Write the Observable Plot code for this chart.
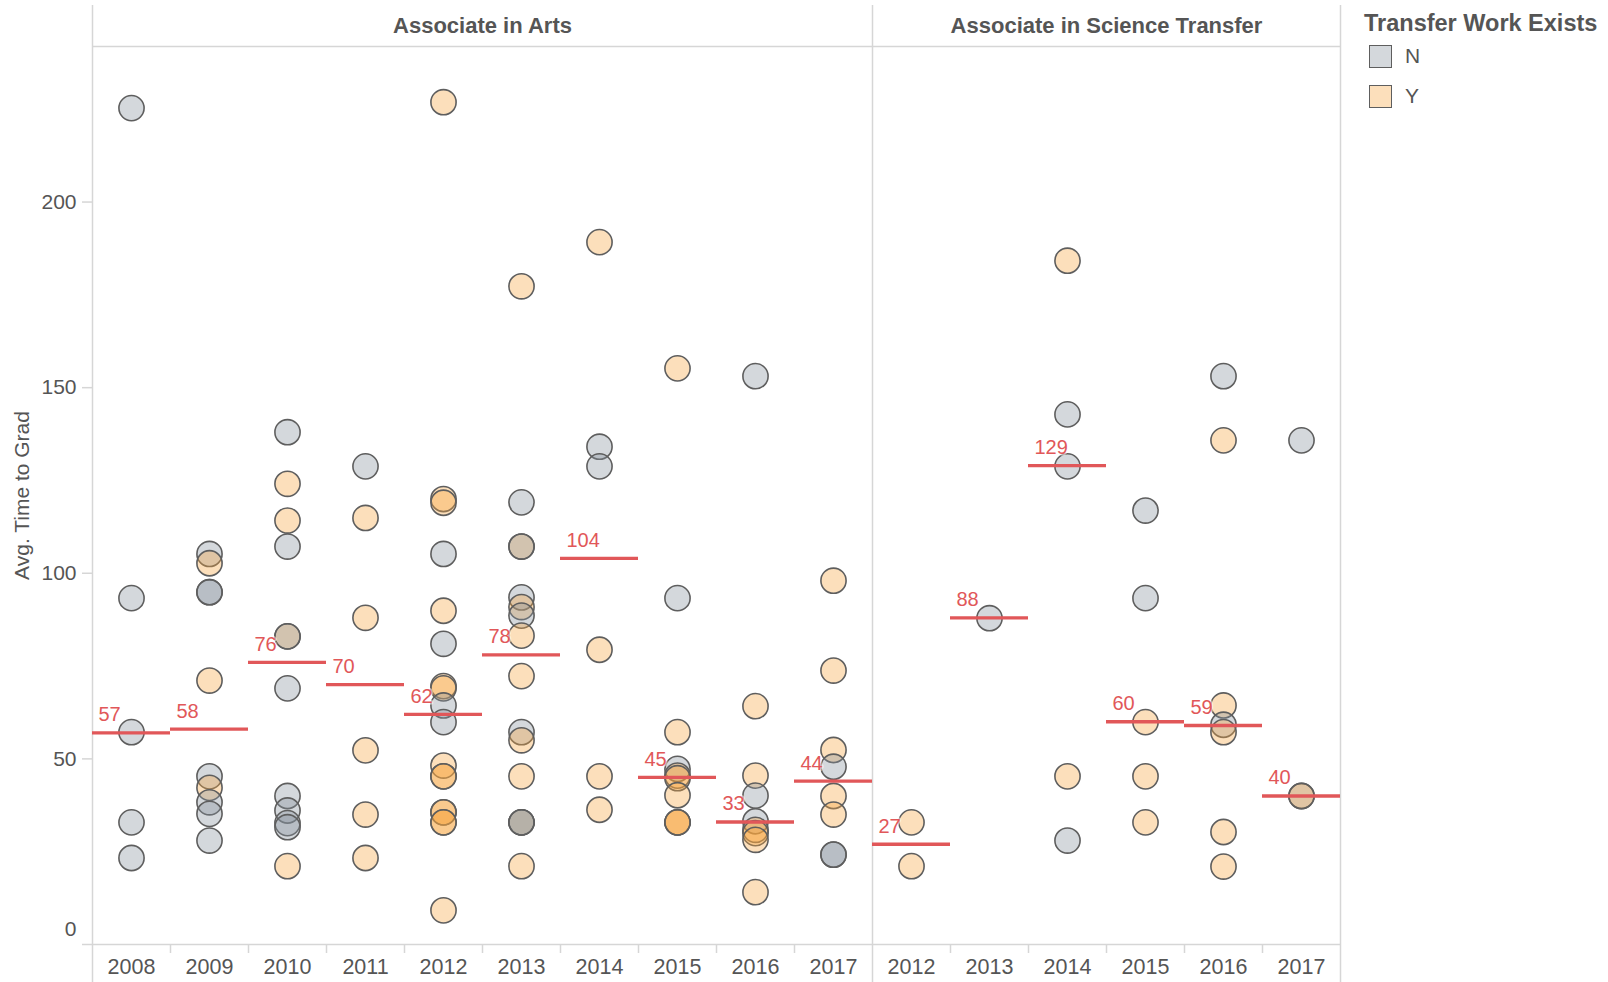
<!DOCTYPE html>
<html>
<head>
<meta charset="utf-8">
<script src="https://cdn.jsdelivr.net/npm/d3@7"></script>
<script src="https://cdn.jsdelivr.net/npm/@observablehq/plot@0.6"></script>
<style>
  html, body { margin: 0; padding: 0; background: #fff; overflow: hidden; }
  #wrap { position: relative; width: 1608px; height: 982px; font-family: "Liberation Sans", Arial, sans-serif; }
  #left, #right { position: absolute; top: 0; }
  #left { left: 0; }
  #right { left: 872px; }
  #legend { position: absolute; left: 1364px; top: 0; color: #555; }
  #legend .title { position: absolute; left: 0; top: 9px; font-size: 23.5px; font-weight: bold; white-space: nowrap; line-height: 28px; }
  #legend .item { position: absolute; left: 5px; height: 24px; display: flex; align-items: center; white-space: nowrap; }
  #legend .sw { width: 21px; height: 21px; border: 1.5px solid #5e5e5e; box-sizing: content-box; }
  #legend .lab { margin-left: 13px; font-size: 21px; }
</style>
</head>
<body>
<div id="wrap">
  <div id="left"></div>
  <div id="right"></div>
  <div id="legend"></div>
</div>
<script>
// ---------- data ----------
const panels = ["Associate in Arts", "Associate in Science Transfer"];
const aaYears = [2008, 2009, 2010, 2011, 2012, 2013, 2014, 2015, 2016, 2017];
const astYears = [2012, 2013, 2014, 2015, 2016, 2017];
const transferLevels = ["N", "Y"];

// Associate in Arts: one entry per point
const aaYear = [
  2008,2008,2008,2008,2008,
  2009,2009,2009,2009,2009,2009,2009,2009,2009,2009,
  2010,2010,2010,2010,2010,2010,2010,2010,2010,2010,2010,2010,
  2011,2011,2011,2011,2011,2011,
  2012,2012,2012,2012,2012,2012,2012,2012,2012,2012,2012,2012,2012,2012,2012,2012,2012,2012,
  2013,2013,2013,2013,2013,2013,2013,2013,2013,2013,2013,2013,2013,2013,2013,2013,
  2014,2014,2014,2014,2014,2014,
  2015,2015,2015,2015,2015,2015,2015,2015,2015,2015,
  2016,2016,2016,2016,2016,2016,2016,2016,2016,
  2017,2017,2017,2017,2017,2017,2017,2017
];
const aaTime = [
  225.3,93.3,57.2,32.9,23.3,
  105.2,102.7,94.9,94.9,71.1,45.3,42.2,38.3,35.2,28.0,
  138.0,124.1,114.2,107.2,83.0,83.0,69.0,40.0,36.1,32.7,31.6,21.1,
  128.8,114.9,88.0,52.3,35.0,23.3,
  226.9,120.0,119.0,105.2,89.9,81.0,69.6,69.0,64.4,59.9,48.2,45.3,45.3,35.6,35.6,32.9,32.9,9.2,
  177.3,119.1,107.2,107.2,93.5,90.9,88.6,83.2,72.3,57.2,55.0,45.3,32.9,32.9,32.9,21.1,
  189.2,134.1,128.8,79.4,45.3,36.3,
  155.2,93.3,57.2,47.3,45.5,44.8,40.2,32.9,32.9,32.9,
  153.1,64.2,45.5,40.1,33.2,30.9,30.0,28.2,14.1,
  98.0,73.8,52.4,47.9,40.0,35.0,24.2,24.2
];
const aaTransfer = [
  "N","N","N","N","N",
  "N","Y","N","N","Y","N","Y","N","N","N",
  "N","Y","Y","N","Y","N","N","N","N","N","N","Y",
  "N","Y","Y","Y","Y","Y",
  "Y","Y","Y","N","Y","N","Y","Y","N","N","Y","Y","Y","Y","Y","Y","Y","Y",
  "Y","N","Y","N","N","Y","N","Y","Y","N","Y","Y","Y","N","N","Y",
  "Y","N","N","Y","Y","Y",
  "Y","N","Y","N","Y","Y","Y","Y","Y","Y",
  "N","Y","Y","N","N","Y","Y","Y","Y",
  "Y","Y","Y","N","Y","Y","N","N"
];

// Associate in Science Transfer
const astYear = [
  2012,2012,
  2013,
  2014,2014,2014,2014,2014,
  2015,2015,2015,2015,2015,
  2016,2016,2016,2016,2016,2016,2016,
  2017,2017,2017
];
const astTime = [
  32.9,21.1,
  87.9,
  184.2,142.8,128.8,45.3,28.0,
  116.9,93.3,59.9,45.3,32.9,
  153.1,135.8,64.4,59.2,57.2,30.3,21.0,
  135.8,40.0,40.0
];
const astTransfer = [
  "Y","Y",
  "N",
  "Y","N","N","Y","N",
  "N","N","Y","Y","Y",
  "N","Y","Y","N","Y","Y","Y",
  "N","N","Y"
];

// Median reference lines (labels as shown)
const aaMedian = [57, 58, 76, 70, 62, 78, 104, 45, 33, 44];
const astMedian = [27, 88, 129, 60, 59, 40];

const yTicks = [0, 50, 100, 150, 200];
const yMax = 241.9;

// ---------- styling ----------
const FONT = '"Liberation Sans", Arial, sans-serif';
const TEXT = "#555555";
const GRID = "#d6d6d6";
const RED = "#e15759";
const colorRange = ["#848f9b", "#f6a43d"];
const legendFill = ["#d4d8dc", "#fcdfbb"];

function build(years, yearArr, timeArr, transferArr, medians, title, isLeft) {
  const pts = yearArr.map((y, i) => ({year: y, time: timeArr[i], transfer: transferArr[i]}));
  const med = years.map((y, i) => ({year: y, value: medians[i]}));
  const lo = years[0] - 0.5, hi = years[years.length - 1] + 0.5;
  const bounds = d3.range(years.length + 1).map(i => lo + i);
  const inner = bounds.slice(1, -1);
  const outer = isLeft ? [lo, hi] : [hi];
  const bandW = 78;
  const marks = [
    Plot.ruleY([yMax], {stroke: GRID, strokeWidth: 1.5}),
    Plot.ruleY([0], {stroke: GRID, strokeWidth: 1.5, insetLeft: isLeft ? -10 : 0}),
    Plot.ruleX(outer, {stroke: GRID, strokeWidth: 1.5, insetTop: -41, insetBottom: -38}),
    Plot.axisX({ticks: inner, tickSize: 9, tickFormat: () => "", stroke: GRID, strokeWidth: 1.5, label: null}),
    Plot.axisX({ticks: years, tickSize: 0, tickPadding: 14, tickFormat: d => String(d), fill: TEXT, fontSize: 21.5, fontFamily: FONT, label: null}),
    Plot.dot(pts, {x: "year", y: "time", r: 12.6, fill: "transfer", fillOpacity: 0.35, stroke: "#5e5e5e", strokeWidth: 1.6}),
    Plot.ruleY(med, {y: "value", x1: d => d.year - 0.5, x2: d => d.year + 0.5, stroke: RED, strokeWidth: 3.3}),
    Plot.text(med, {x: d => d.year - 0.5, y: "value", text: d => String(d.value), textAnchor: "start", dx: 6, dy: -18,
      fill: RED, fontSize: 20, fontFamily: FONT, stroke: "white", strokeOpacity: 0.55, strokeWidth: 3}),
    Plot.text([title], {frameAnchor: "top", lineAnchor: "middle", textAnchor: "middle", dy: -21,
      fontWeight: "bold", fontSize: 22, fill: TEXT, fontFamily: FONT})
  ];
  if (isLeft) {
    marks.push(
      Plot.axisY({ticks: yTicks.filter(t => t > 0), tickSize: 10, tickPadding: 6, stroke: GRID, strokeWidth: 1.5,
        fill: TEXT, fontSize: 21, fontFamily: FONT, label: null}),
      Plot.axisY({ticks: [0], tickSize: 0, tickPadding: 16, dy: -15, fill: TEXT, fontSize: 21, fontFamily: FONT, label: null}),
      Plot.text(["Avg. Time to Grad"], {frameAnchor: "left", rotate: -90, textAnchor: "middle", lineAnchor: "middle",
        dx: -70, fill: TEXT, fontSize: 21, fontFamily: FONT})
    );
  }
  return Plot.plot({
    width: (isLeft ? 92 : 0) + years.length * bandW + 1,
    height: 982,
    marginLeft: isLeft ? 92 : 0,
    marginRight: 1,
    marginTop: 46,
    marginBottom: 38,
    x: {type: "linear", domain: [lo, hi], axis: null, label: null},
    y: {domain: [0, yMax], axis: null, label: null},
    color: {domain: transferLevels, range: colorRange},
    style: {fontFamily: FONT, color: TEXT, background: "transparent", overflow: "visible"},
    marks
  });
}

document.getElementById("left").appendChild(
  build(aaYears, aaYear, aaTime, aaTransfer, aaMedian, panels[0], true));
document.getElementById("right").appendChild(
  build(astYears, astYear, astTime, astTransfer, astMedian, panels[1], false));

// legend
const lg = document.getElementById("legend");
const t = document.createElement("div");
t.className = "title";
t.textContent = "Transfer Work Exists";
lg.appendChild(t);
transferLevels.forEach((lv, i) => {
  const it = document.createElement("div");
  it.className = "item";
  it.style.top = (44 + i * 40) + "px";
  const sw = document.createElement("div");
  sw.className = "sw";
  sw.style.background = legendFill[i];
  const lab = document.createElement("span");
  lab.className = "lab";
  lab.textContent = lv;
  it.appendChild(sw);
  it.appendChild(lab);
  lg.appendChild(it);
});
</script>
</body>
</html>
